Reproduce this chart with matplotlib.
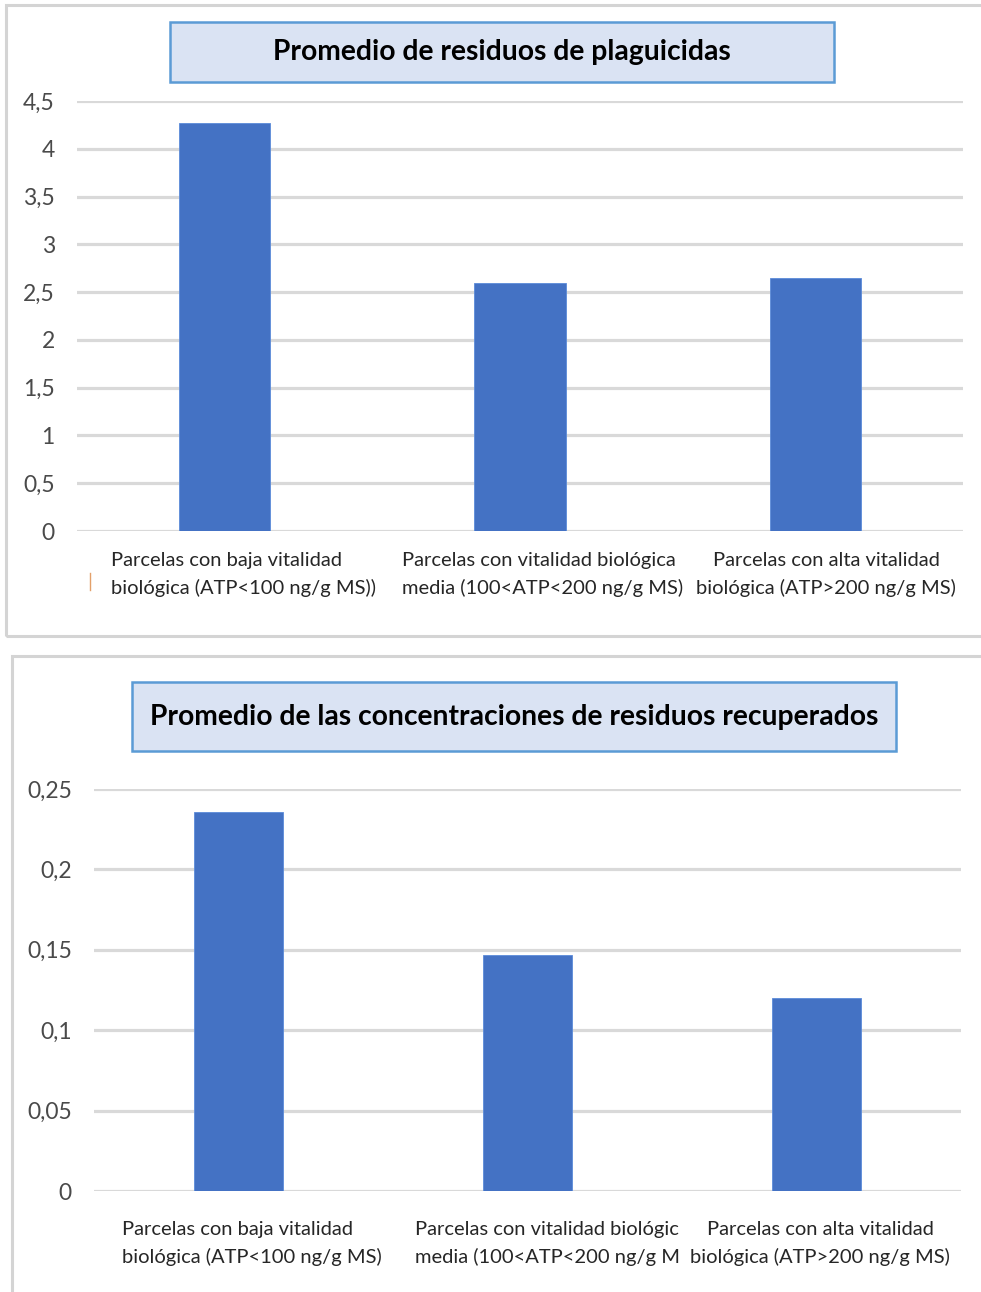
import matplotlib
matplotlib.use("Agg")
import matplotlib.pyplot as plt
import matplotlib.transforms as mtransforms
from matplotlib.patches import Rectangle
from matplotlib.lines import Line2D

plt.rcParams['font.family'] = ['Lato', 'DejaVu Sans']

# ---- data ----
cats_top = ["Parcelas con baja vitalidad\nbiológica (ATP<100 ng/g MS))",
            "Parcelas con vitalidad biológica\nmedia (100<ATP<200 ng/g MS)",
            "Parcelas con alta vitalidad\nbiológica (ATP>200 ng/g MS)"]
vals_top = [4.27, 2.6, 2.65]
ticks_top = [0, 0.5, 1, 1.5, 2, 2.5, 3, 3.5, 4, 4.5]
title_top = "Promedio de residuos de plaguicidas"

cats_bot = ["Parcelas con baja vitalidad\nbiológica (ATP<100 ng/g MS)",
            "Parcelas con vitalidad biológica\nmedia (100<ATP<200 ng/g MS)",
            "Parcelas con alta vitalidad\nbiológica (ATP>200 ng/g MS)"]
vals_bot = [0.236, 0.147, 0.12]
ticks_bot = [0, 0.05, 0.1, 0.15, 0.2, 0.25]
title_bot = "Promedio de las concentraciones de residuos recuperados"

W, H = 981, 1292
DPI = 100
fig = plt.figure(figsize=(W / DPI, H / DPI), dpi=DPI)

BAR = "#4472C4"
GRID = "#D9D9D9"
TICKC = "#4A4A4A"
TXT = "#262626"
PANEL = "#D4D4D4"


def px_rect(x0, y0, x1, y1):
    """Pixel box (top-left origin) -> figure fraction [l, b, w, h]."""
    return [x0 / W, 1 - y1 / H, (x1 - x0) / W, (y1 - y0) / H]


def fmt(v):
    return f"{v:g}".replace(".", ",")


def draw_panel(ax, cats, vals, ticks, label_pos, clip_right=None):
    x = list(range(len(vals)))
    ax.set_facecolor("none")
    ax.bar(x, vals, width=0.31, color=BAR, edgecolor="#5B8BD9", linewidth=0.6, zorder=3)
    ax.set_xlim(-0.5, len(vals) - 0.5)
    ax.set_ylim(0, ticks[-1])
    ax.set_yticks(ticks)
    ax.set_yticklabels([fmt(t) for t in ticks], color=TICKC, fontsize=16.5)
    ax.tick_params(axis="y", length=0, pad=16)
    ax.tick_params(axis="x", length=0)
    ax.yaxis.grid(True, color=GRID, linewidth=2.3, zorder=0)
    ax.set_axisbelow(True)
    for s in ax.spines.values():
        s.set_visible(False)
    ax.set_xticks(x)
    ax.set_xticklabels(cats, fontsize=14.5, color=TXT, linespacing=1.7)
    for i, lab in enumerate(ax.get_xticklabels()):
        mode, target_px, pad_px = label_pos[i]
        tick_px = ax.transData.transform((i, 0))[0]
        lab.set_ha(mode)
        lab.set_multialignment("left" if mode == "left" else "center")
        dx = (target_px - tick_px) / DPI
        dy = -pad_px / DPI
        lab.set_transform(lab.get_transform() +
                          mtransforms.ScaledTranslation(dx, dy, fig.dpi_scale_trans))
        if clip_right is not None and i == 1:
            clip = Rectangle((0, 0), clip_right / W, 1, transform=fig.transFigure)
            lab.set_clip_path(clip)
            lab.set_clip_on(True)


def title_box(x0, y0, x1, y1, text, fs):
    l, b, w, h = px_rect(x0, y0, x1, y1)
    fig.add_artist(Rectangle((l, b), w, h, transform=fig.transFigure,
                             facecolor="#DAE3F3", edgecolor="#5B9BD5",
                             linewidth=1.8, zorder=5))
    fig.text(l + w / 2, b + h / 2, text, ha="center", va="center",
             fontsize=fs, fontweight="bold", color="#000000", zorder=6)


# ---- panel frames ----
for box in [(6, 5, 990, 636), (12, 656, 990, 1300)]:
    l, b, w, h = px_rect(*box)
    fig.add_artist(Rectangle((l, b), w, h, transform=fig.transFigure,
                             facecolor="none", edgecolor=PANEL, linewidth=2.2, zorder=1))

# ---- top chart ----
ax1 = fig.add_axes(px_rect(77, 101, 963, 531))
draw_panel(ax1, cats_top, vals_top, ticks_top,
           [("left", 111, 16), ("left", 402, 16), ("center", 826, 16)])
title_box(170, 22, 834, 82, title_top, 20.3)

# small orange mark beside the first category label
fig.add_artist(Line2D([90 / W, 90 / W], [1 - 573 / H, 1 - 590 / H],
                      transform=fig.transFigure, color="#E3A06A", linewidth=1.0))

# ---- bottom chart ----
ax2 = fig.add_axes(px_rect(94, 789, 961, 1191))
draw_panel(ax2, cats_bot, vals_bot, ticks_bot,
           [("left", 122, 25), ("left", 415, 25), ("center", 820, 25)],
           clip_right=679)
title_box(132, 682, 896, 751, title_bot, 20.3)

fig.savefig("out.png", dpi=DPI)
